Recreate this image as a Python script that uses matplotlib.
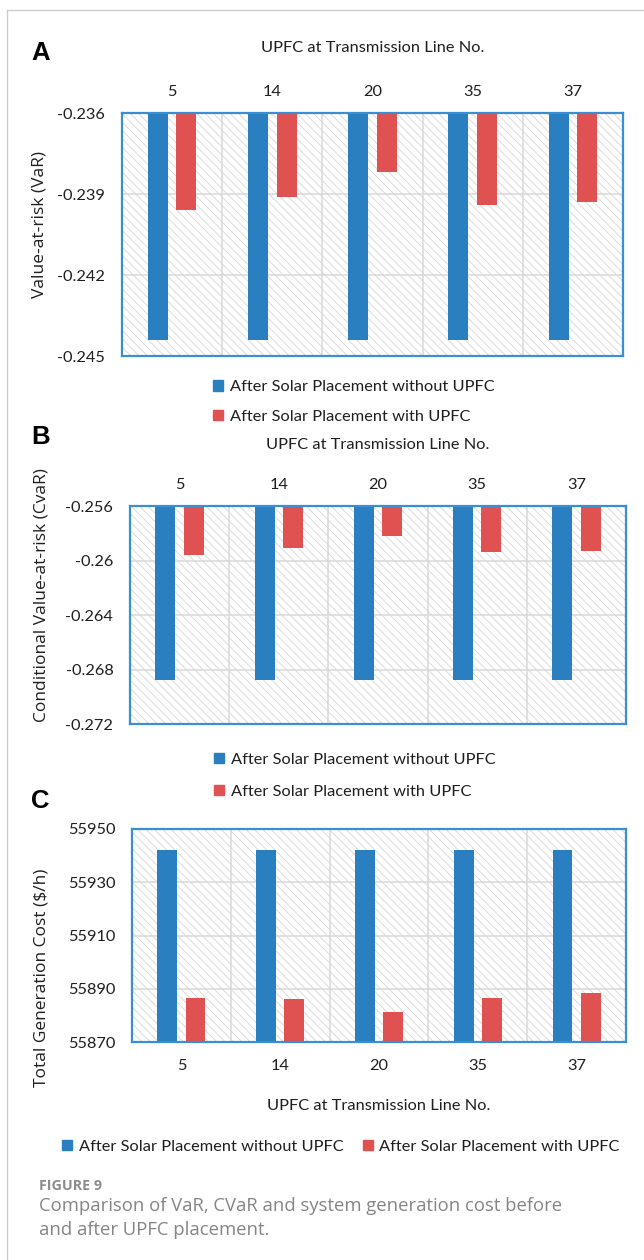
import matplotlib
matplotlib.use('Agg')
import matplotlib.pyplot as plt
from matplotlib.patches import Patch, Rectangle
from matplotlib.lines import Line2D
import numpy as np

# data
lines = ['5', '14', '20', '35', '37']
var_without = [-0.2444, -0.2444, -0.2444, -0.2444, -0.2444]
var_with = [-0.2396, -0.2391, -0.2382, -0.2394, -0.2393]
cvar_without = [-0.2688, -0.2688, -0.2688, -0.2688, -0.2688]
cvar_with = [-0.2596, -0.2591, -0.2582, -0.2594, -0.2593]
cost_without = [55942.2, 55942.2, 55942.2, 55942.2, 55942.2]
cost_with = [55886.5, 55886.0, 55881.2, 55886.5, 55888.4]

var_ticks = [-0.245, -0.242, -0.239, -0.236]
cvar_ticks = [-0.272, -0.268, -0.264, -0.26, -0.256]
cost_ticks = [55870, 55890, 55910, 55930, 55950]

label_without = 'After Solar Placement without UPFC'
label_with = 'After Solar Placement with UPFC'
xtitle = 'UPFC at Transmission Line No.'

BLUE = '#2a7fc1'
RED = '#e05151'
BORDER = '#3a8fd2'
GRID = '#d9d9d9'
TXT = '#1f1f1f'
FS = 11.8

W, H = 644, 1260
plt.rcParams['font.family'] = ['Lato', 'DejaVu Sans']
plt.rcParams['hatch.color'] = '#d6d6d6'
plt.rcParams['hatch.linewidth'] = 0.6

fig = plt.figure(figsize=(W / 100, H / 100), dpi=100)


def rect(left, top, right, bottom):
    return [left / W, 1 - bottom / H, (right - left) / W, (bottom - top) / H]


def panel(box, without, with_, ticks, top_axis, ylabel, ylab_y, ylab_x, title_pad):
    ax = fig.add_axes(rect(*box))
    x = np.arange(len(lines))
    lo, hi = ticks[0], ticks[-1]
    ax.set_ylim(lo, hi)
    ax.set_xlim(-0.5, len(lines) - 0.5)
    # hatched plot background
    ax.add_patch(Rectangle((0, 0), 1, 1, transform=ax.transAxes, facecolor='white',
                           edgecolor='#d6d6d6', lw=0, hatch='\\\\\\\\', zorder=0.1))
    ax.set_axisbelow(True)
    base = hi if top_axis else lo
    ax.bar(x - 0.143, np.array(without) - base, bottom=base, width=0.2, color=BLUE, zorder=2)
    ax.bar(x + 0.143, np.array(with_) - base, bottom=base, width=0.2, color=RED, zorder=2)
    ax.set_yticks(ticks)
    ax.set_yticklabels([f'{t:g}' for t in ticks])
    ax.set_xticks(x)
    ax.set_xticklabels(lines)
    ax.set_xticks(np.arange(0.5, len(lines) - 0.5), minor=True)
    ax.grid(True, which='major', axis='y', color=GRID, lw=1.1)
    ax.grid(True, which='minor', axis='x', color=GRID, lw=1.1)
    ax.tick_params(which='both', length=0, labelsize=FS, colors=TXT)
    ax.tick_params(axis='y', pad=12)
    if top_axis:
        ax.xaxis.tick_top()
        ax.xaxis.set_label_position('top')
        ax.tick_params(axis='x', pad=10)
    else:
        ax.tick_params(axis='x', pad=12)
    ax.set_xlabel(xtitle, fontsize=FS, color=TXT, labelpad=title_pad)
    for s in ax.spines.values():
        s.set_color(BORDER)
        s.set_linewidth(1.6)
    ax.set_ylabel(ylabel, fontsize=12.5, color=TXT, family=['Open Sans', 'DejaVu Sans'])
    ax.yaxis.set_label_coords(ylab_x, ylab_y)
    return ax


panel((122, 113, 623, 356), var_without, var_with, var_ticks, True,
      'Value-at-risk (VaR)', 0.54, -0.148, 23.5)
panel((130, 506, 626, 724), cvar_without, cvar_with, cvar_ticks, True,
      'Conditional Value-at-risk (CvaR)', 0.59, -0.163, 21)
panel((132, 829, 626, 1042), cost_without, cost_with, cost_ticks, False,
      'Total Generation Cost ($/h)', 0.30, -0.168, 19)

handles = [Patch(color=BLUE, label=label_without), Patch(color=RED, label=label_with)]
leg_kw = dict(loc='center', frameon=False, fontsize=FS, handlelength=0.6, handleheight=0.6,
              handletextpad=0.4, borderpad=0, labelcolor=TXT)
fig.legend(handles=handles, bbox_to_anchor=(354 / W, 1 - 402 / H), labelspacing=0.95, **leg_kw)
fig.legend(handles=handles, bbox_to_anchor=(355 / W, 1 - 776 / H), labelspacing=1.1, **leg_kw)
fig.legend(handles=handles, bbox_to_anchor=(341 / W, 1 - 1147 / H), ncol=2, columnspacing=1.2, **leg_kw)

# panel letters
for letter, ypx in (('A', 53), ('B', 437), ('C', 801)):
    fig.text(31 / W, 1 - ypx / H, letter, fontsize=18.5, fontweight='bold',
             family=['Liberation Sans', 'DejaVu Sans'], va='center', ha='left', color='black')

# caption
fig.text(39 / W, 1 - 1186 / H, 'FIGURE 9', fontsize=10.3, fontweight='bold', color='#8c8c8c',
         family=['Open Sans', 'DejaVu Sans'], va='center')
fig.text(39 / W, 1 - 1206 / H, 'Comparison of VaR, CVaR and system generation cost before',
         fontsize=13.3, color='#858585', family=['Open Sans', 'DejaVu Sans'], va='center')
fig.text(39 / W, 1 - 1230 / H, 'and after UPFC placement.',
         fontsize=13.3, color='#858585', family=['Open Sans', 'DejaVu Sans'], va='center')

# thin frame at top and left
fig.add_artist(Line2D([7 / W, 7 / W], [0, 1 - 10 / H], color='#cccccc', lw=1))
fig.add_artist(Line2D([7 / W, 1], [1 - 10 / H, 1 - 10 / H], color='#cccccc', lw=1))

fig.savefig('out.png', dpi=100)
